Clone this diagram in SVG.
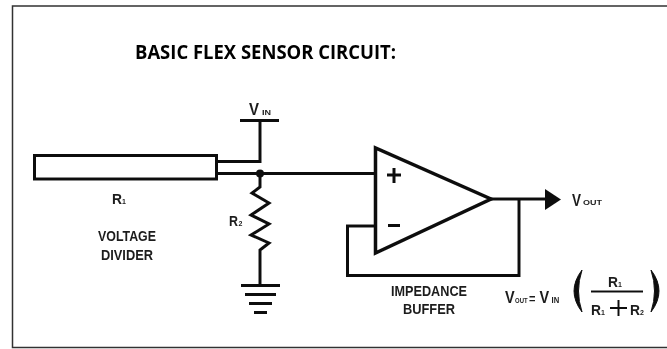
<svg xmlns="http://www.w3.org/2000/svg" width="667" height="349" viewBox="0 0 667 349">
<defs>
<filter id="soft" x="-2%" y="-2%" width="104%" height="104%"><feGaussianBlur stdDeviation="0.55"/></filter>
<style>
.w{fill:none;stroke:#111;stroke-width:3;stroke-linejoin:miter}
.g{fill:none;stroke:#111;stroke-width:3}
text{font-family:"Liberation Sans",Arial,sans-serif;font-weight:bold;fill:#1c1c1c;font-size:14px}
.v{font-size:17px}
.s{font-size:7px}
.r{font-size:15px}
</style>
</defs>
<rect width="667" height="349" fill="#fff"/>
<g filter="url(#soft)">
<path id="frame" d="M667 6H12.500V347.500H667" fill="none" stroke="#333" stroke-width="1.500"/>
<text id="title" x="135" y="59" style="font-family:'Open Sans',sans-serif;font-size:19.500px;fill:#000" textLength="261" lengthAdjust="spacingAndGlyphs">BASIC FLEX SENSOR CIRCUIT:</text>
<g id="connectors">
<path class="w" d="M217 161.500H260V120.500"/>
<path class="w" d="M217 173.500H375"/>
<path class="w" d="M260 173V187L252 193 269 203 251 215 269 224 251 235 269 243 260 250V285"/>
<path class="w" d="M490 199H546"/>
<path class="w" d="M519 199V275.500H347.500V226H375"/>
</g>
<g id="flex-sensor"><rect class="w" x="34.500" y="155.500" width="182" height="23.500"/><text class="r" x="112" y="204" textLength="10" lengthAdjust="spacingAndGlyphs">R</text><text class="s" x="122" y="204">1</text></g>
<g id="vin"><path class="w" d="M240 120.500H279"/><text class="v" x="249" y="115" textLength="10" lengthAdjust="spacingAndGlyphs">V</text><text class="s" x="262" y="115" textLength="9" lengthAdjust="spacingAndGlyphs">IN</text></g>
<g id="junction"><circle cx="260" cy="173.500" r="4" fill="#111"/></g>
<g id="r2"><text class="r" x="229" y="226" textLength="9" lengthAdjust="spacingAndGlyphs">R</text><text class="s" x="238.500" y="226">2</text></g>
<g id="ground"><path class="g" d="M241 285.500H280"/><path class="g" d="M245 294.500H276"/><path class="g" d="M249 303.500H272"/><path class="g" d="M254 312.500H267"/></g>
<g id="divider-label"><text x="98" y="241" textLength="58" lengthAdjust="spacingAndGlyphs">VOLTAGE</text><text x="101" y="260" textLength="52" lengthAdjust="spacingAndGlyphs">DIVIDER</text></g>
<g id="opamp"><path d="M375.500 148V253L491 199Z" fill="#fff" stroke="#111" stroke-width="3.500"/><path class="g" d="M387 175H401M394 168V183M388 225.500H400"/></g>
<g id="vout"><path d="M545 189V210L561 199.500Z" fill="#111"/><text class="v" x="572" y="206" textLength="9" lengthAdjust="spacingAndGlyphs">V</text><text class="s" x="583" y="205" textLength="19" lengthAdjust="spacingAndGlyphs">OUT</text></g>
<g id="buffer-label"><text x="391" y="296" textLength="76" lengthAdjust="spacingAndGlyphs">IMPEDANCE</text><text x="403" y="314" textLength="52" lengthAdjust="spacingAndGlyphs">BUFFER</text></g>
<g id="formula">
<text transform="translate(505 303) scale(.85 1)"><tspan class="v">V</tspan><tspan class="s" dx=".5">OUT</tspan><tspan style="font-size:13px" dx="1.800">=</tspan><tspan class="v" dx="4.700">V</tspan><tspan style="font-size:9px" dx="2.800">IN</tspan></text>
<path d="M582 270Q566 291 582 312Q575 291 582 270Z" fill="#111" stroke="#111"/>
<path d="M651 270Q667 291 651 312Q658 291 651 270Z" fill="#111" stroke="#111"/>
<text class="r" x="608" y="287" textLength="10" lengthAdjust="spacingAndGlyphs">R</text><text class="s" x="618" y="287">1</text>
<path d="M591 291.500H643" stroke="#111" stroke-width="2"/>
<text class="r" x="591" y="315" textLength="10" lengthAdjust="spacingAndGlyphs">R</text><text class="s" x="601" y="315">1</text>
<path d="M610 308H627M618.500 300V316" stroke="#111" stroke-width="2"/>
<text class="r" x="630" y="315" textLength="10" lengthAdjust="spacingAndGlyphs">R</text><text class="s" x="640" y="315">2</text>
</g>
</g>
</svg>
